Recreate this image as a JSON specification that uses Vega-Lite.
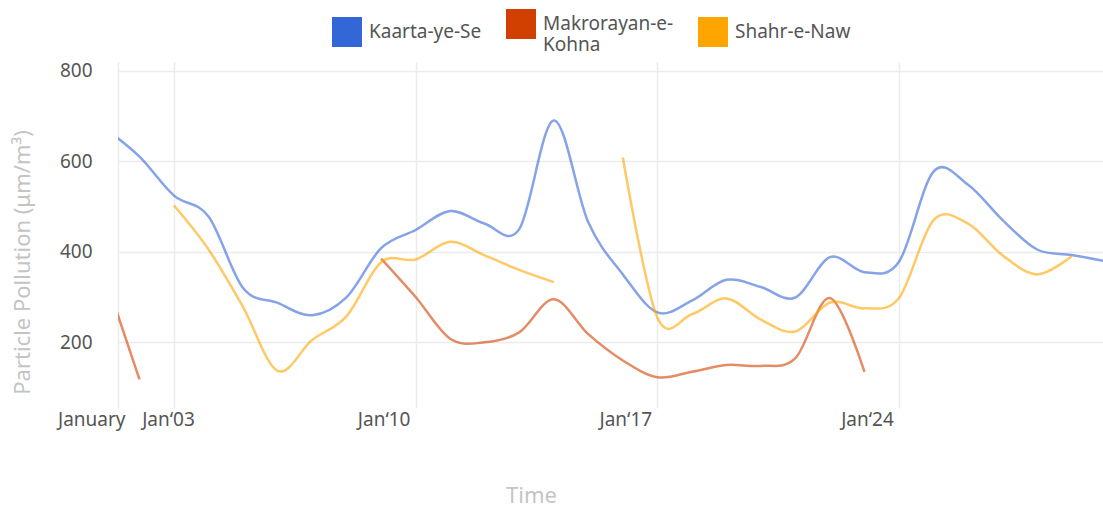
{
  "$schema": "https://vega.github.io/schema/vega-lite/v6.json",
  "width": 985,
  "height": 346,
  "autosize": {"type": "none"},
  "padding": {"left": 118, "top": 62, "right": 0, "bottom": 102},
  "background": "white",
  "config": {"view": {"stroke": null}, "font": "Noto Sans"},
  "data": {
    "values": [
      {"date": "2024-01-01", "series": "Kaarta-ye-Se", "value": 672},
      {"date": "2024-01-02", "series": "Kaarta-ye-Se", "value": 610},
      {"date": "2024-01-03", "series": "Kaarta-ye-Se", "value": 524},
      {"date": "2024-01-04", "series": "Kaarta-ye-Se", "value": 478},
      {"date": "2024-01-05", "series": "Kaarta-ye-Se", "value": 320},
      {"date": "2024-01-06", "series": "Kaarta-ye-Se", "value": 287},
      {"date": "2024-01-07", "series": "Kaarta-ye-Se", "value": 260},
      {"date": "2024-01-08", "series": "Kaarta-ye-Se", "value": 300},
      {"date": "2024-01-09", "series": "Kaarta-ye-Se", "value": 408},
      {"date": "2024-01-10", "series": "Kaarta-ye-Se", "value": 448},
      {"date": "2024-01-11", "series": "Kaarta-ye-Se", "value": 490},
      {"date": "2024-01-12", "series": "Kaarta-ye-Se", "value": 462},
      {"date": "2024-01-13", "series": "Kaarta-ye-Se", "value": 450},
      {"date": "2024-01-14", "series": "Kaarta-ye-Se", "value": 690},
      {"date": "2024-01-15", "series": "Kaarta-ye-Se", "value": 465},
      {"date": "2024-01-16", "series": "Kaarta-ye-Se", "value": 350},
      {"date": "2024-01-17", "series": "Kaarta-ye-Se", "value": 266},
      {"date": "2024-01-18", "series": "Kaarta-ye-Se", "value": 292},
      {"date": "2024-01-19", "series": "Kaarta-ye-Se", "value": 338},
      {"date": "2024-01-20", "series": "Kaarta-ye-Se", "value": 322},
      {"date": "2024-01-21", "series": "Kaarta-ye-Se", "value": 299},
      {"date": "2024-01-22", "series": "Kaarta-ye-Se", "value": 388},
      {"date": "2024-01-23", "series": "Kaarta-ye-Se", "value": 355},
      {"date": "2024-01-24", "series": "Kaarta-ye-Se", "value": 378},
      {"date": "2024-01-25", "series": "Kaarta-ye-Se", "value": 577},
      {"date": "2024-01-26", "series": "Kaarta-ye-Se", "value": 548},
      {"date": "2024-01-27", "series": "Kaarta-ye-Se", "value": 470},
      {"date": "2024-01-28", "series": "Kaarta-ye-Se", "value": 405},
      {"date": "2024-01-29", "series": "Kaarta-ye-Se", "value": 393},
      {"date": "2024-01-30", "series": "Kaarta-ye-Se", "value": 379},

      {"date": "2024-01-01", "series": "Makrorayan-e-Kohna", "value": 345},
      {"date": "2024-01-02", "series": "Makrorayan-e-Kohna", "value": 118},
      {"date": "2024-01-03", "series": "Makrorayan-e-Kohna", "value": null},
      {"date": "2024-01-04", "series": "Makrorayan-e-Kohna", "value": null},
      {"date": "2024-01-05", "series": "Makrorayan-e-Kohna", "value": null},
      {"date": "2024-01-06", "series": "Makrorayan-e-Kohna", "value": null},
      {"date": "2024-01-07", "series": "Makrorayan-e-Kohna", "value": null},
      {"date": "2024-01-08", "series": "Makrorayan-e-Kohna", "value": null},
      {"date": "2024-01-09", "series": "Makrorayan-e-Kohna", "value": 385},
      {"date": "2024-01-10", "series": "Makrorayan-e-Kohna", "value": 300},
      {"date": "2024-01-11", "series": "Makrorayan-e-Kohna", "value": 208},
      {"date": "2024-01-12", "series": "Makrorayan-e-Kohna", "value": 200},
      {"date": "2024-01-13", "series": "Makrorayan-e-Kohna", "value": 222},
      {"date": "2024-01-14", "series": "Makrorayan-e-Kohna", "value": 295},
      {"date": "2024-01-15", "series": "Makrorayan-e-Kohna", "value": 218},
      {"date": "2024-01-16", "series": "Makrorayan-e-Kohna", "value": 160},
      {"date": "2024-01-17", "series": "Makrorayan-e-Kohna", "value": 123},
      {"date": "2024-01-18", "series": "Makrorayan-e-Kohna", "value": 135},
      {"date": "2024-01-19", "series": "Makrorayan-e-Kohna", "value": 150},
      {"date": "2024-01-20", "series": "Makrorayan-e-Kohna", "value": 148},
      {"date": "2024-01-21", "series": "Makrorayan-e-Kohna", "value": 165},
      {"date": "2024-01-22", "series": "Makrorayan-e-Kohna", "value": 298},
      {"date": "2024-01-23", "series": "Makrorayan-e-Kohna", "value": 135},
      {"date": "2024-01-24", "series": "Makrorayan-e-Kohna", "value": null},

      {"date": "2024-01-02", "series": "Shahr-e-Naw", "value": null},
      {"date": "2024-01-03", "series": "Shahr-e-Naw", "value": 502},
      {"date": "2024-01-04", "series": "Shahr-e-Naw", "value": 405},
      {"date": "2024-01-05", "series": "Shahr-e-Naw", "value": 278},
      {"date": "2024-01-06", "series": "Shahr-e-Naw", "value": 137},
      {"date": "2024-01-07", "series": "Shahr-e-Naw", "value": 205},
      {"date": "2024-01-08", "series": "Shahr-e-Naw", "value": 258},
      {"date": "2024-01-09", "series": "Shahr-e-Naw", "value": 377},
      {"date": "2024-01-10", "series": "Shahr-e-Naw", "value": 383},
      {"date": "2024-01-11", "series": "Shahr-e-Naw", "value": 422},
      {"date": "2024-01-12", "series": "Shahr-e-Naw", "value": 392},
      {"date": "2024-01-13", "series": "Shahr-e-Naw", "value": 360},
      {"date": "2024-01-14", "series": "Shahr-e-Naw", "value": 333},
      {"date": "2024-01-15", "series": "Shahr-e-Naw", "value": null},
      {"date": "2024-01-16", "series": "Shahr-e-Naw", "value": 608},
      {"date": "2024-01-17", "series": "Shahr-e-Naw", "value": 255},
      {"date": "2024-01-18", "series": "Shahr-e-Naw", "value": 262},
      {"date": "2024-01-19", "series": "Shahr-e-Naw", "value": 297},
      {"date": "2024-01-20", "series": "Shahr-e-Naw", "value": 250},
      {"date": "2024-01-21", "series": "Shahr-e-Naw", "value": 224},
      {"date": "2024-01-22", "series": "Shahr-e-Naw", "value": 288},
      {"date": "2024-01-23", "series": "Shahr-e-Naw", "value": 275},
      {"date": "2024-01-24", "series": "Shahr-e-Naw", "value": 298},
      {"date": "2024-01-25", "series": "Shahr-e-Naw", "value": 470},
      {"date": "2024-01-26", "series": "Shahr-e-Naw", "value": 462},
      {"date": "2024-01-27", "series": "Shahr-e-Naw", "value": 392},
      {"date": "2024-01-28", "series": "Shahr-e-Naw", "value": 350},
      {"date": "2024-01-29", "series": "Shahr-e-Naw", "value": 390},
      {"date": "2024-01-30", "series": "Shahr-e-Naw", "value": null}
    ]
  },
  "mark": {
    "type": "line",
    "interpolate": "cardinal",
    "strokeWidth": 2.5,
    "strokeOpacity": 0.6,
    "clip": true,
    "invalid": "break-paths-show-domains"
  },
  "encoding": {
    "x": {
      "field": "date",
      "type": "temporal",
      "title": "Time",
      "scale": {
        "type": "utc",
        "domain": [
          {"year": 2024, "month": 1, "date": 1, "hours": 9, "minutes": 4, "utc": true},
          {"year": 2024, "month": 1, "date": 29, "hours": 21, "minutes": 49, "utc": true}
        ]
      },
      "axis": {
        "values": [
          {"year": 2024, "month": 1, "date": 1, "hours": 9, "minutes": 4, "utc": true},
          {"year": 2024, "month": 1, "date": 3, "utc": true},
          {"year": 2024, "month": 1, "date": 10, "utc": true},
          {"year": 2024, "month": 1, "date": 17, "utc": true},
          {"year": 2024, "month": 1, "date": 24, "utc": true}
        ],
        "labelExpr": "utcdate(datum.value) == 1 ? 'January' : 'Jan‘' + utcFormat(datum.value, '%d')",
        "labelAlign": {"condition": {"test": "utcdate(datum.value) == 1", "value": "right"}, "value": "center"},
        "labelOffset": {"condition": [{"test": "utcdate(datum.value) == 1", "value": 7}, {"test": "utcdate(datum.value) == 3", "value": -6}], "value": -32},
        "labelOverlap": false,
        "labelFlush": false,
        "ticks": false,
        "domain": false,
        "grid": true,
        "gridColor": "#ececec",
        "gridWidth": 1.5,
        "labelFontSize": 19,
        "labelColor": "#555555",
        "labelPadding": 2,
        "titleFontSize": 22,
        "titleColor": "#c4c4c4",
        "titleFontWeight": "normal",
        "titleX": 413,
        "titleY": 87,
        "titleBaseline": "middle"
      }
    },
    "y": {
      "field": "value",
      "type": "quantitative",
      "title": "Particle Pollution (μm/m³)",
      "scale": {"domain": [55, 819], "nice": false, "zero": false},
      "axis": {
        "values": [200, 400, 600, 800],
        "ticks": false,
        "domain": false,
        "gridColor": "#ececec",
        "gridWidth": 1.5,
        "labelFontSize": 19,
        "labelColor": "#555555",
        "labelPadding": 26,
        "titleFontSize": 22,
        "titleColor": "#c4c4c4",
        "titleFontWeight": "normal",
        "titleX": -96,
        "titleY": 200,
        "titleAngle": 270,
        "titleAlign": "center",
        "titleBaseline": "middle"
      }
    },
    "color": {
      "field": "series",
      "type": "nominal",
      "scale": {
        "domain": ["Kaarta-ye-Se", "Makrorayan-e-Kohna", "Shahr-e-Naw"],
        "range": ["#3366d6", "#d14000", "#ffa500"]
      },
      "legend": {
        "title": null,
        "orient": "none",
        "legendX": 214,
        "legendY": -53,
        "direction": "horizontal",
        "symbolType": "square",
        "symbolSize": 900,
        "symbolStrokeWidth": 0,
        "symbolOpacity": 1,
        "labelFontSize": 19,
        "labelColor": "#555555",
        "labelOffset": 7,
        "columnPadding": 24,
        "padding": 0,
        "labelExpr": "datum.label == 'Makrorayan-e-Kohna' ? ['Makrorayan-e-', 'Kohna'] : datum.label",
        "encode": {
          "symbols": {"update": {"fill": {"scale": "color", "field": "value"}, "fillOpacity": {"value": 1}, "strokeOpacity": {"value": 0}}},
          "labels": {"update": {"lineHeight": {"value": 21}}}
        }
      }
    }
  }
}
